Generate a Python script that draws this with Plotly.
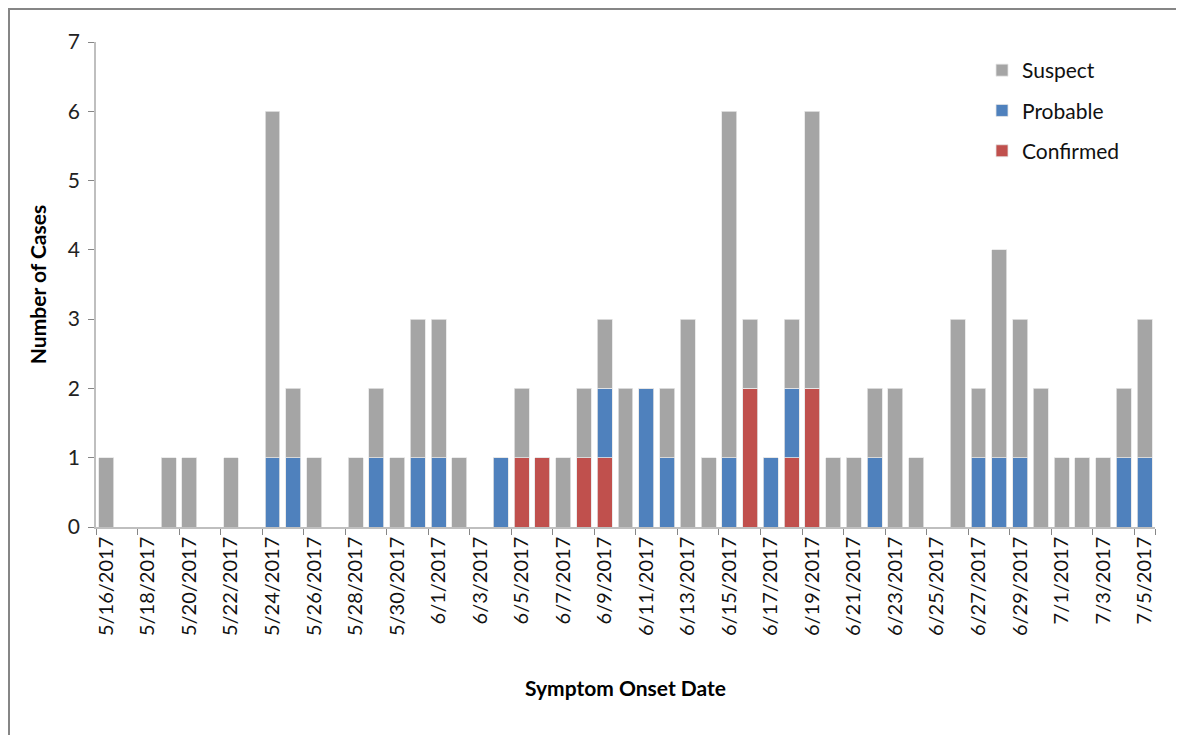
import plotly.graph_objects as go

dates = ["5/16/2017", "5/17/2017", "5/18/2017", "5/19/2017", "5/20/2017", "5/21/2017",
         "5/22/2017", "5/23/2017", "5/24/2017", "5/25/2017", "5/26/2017", "5/27/2017",
         "5/28/2017", "5/29/2017", "5/30/2017", "5/31/2017", "6/1/2017", "6/2/2017",
         "6/3/2017", "6/4/2017", "6/5/2017", "6/6/2017", "6/7/2017", "6/8/2017",
         "6/9/2017", "6/10/2017", "6/11/2017", "6/12/2017", "6/13/2017", "6/14/2017",
         "6/15/2017", "6/16/2017", "6/17/2017", "6/18/2017", "6/19/2017", "6/20/2017",
         "6/21/2017", "6/22/2017", "6/23/2017", "6/24/2017", "6/25/2017", "6/26/2017",
         "6/27/2017", "6/28/2017", "6/29/2017", "6/30/2017", "7/1/2017", "7/2/2017",
         "7/3/2017", "7/4/2017", "7/5/2017"]

confirmed = [0, 0, 0, 0, 0, 0, 0, 0, 0, 0, 0, 0, 0, 0, 0, 0, 0, 0, 0, 0,
             1, 1, 0, 1, 1, 0, 0, 0, 0, 0, 0, 2, 0, 1, 2, 0, 0, 0, 0, 0,
             0, 0, 0, 0, 0, 0, 0, 0, 0, 0, 0]
probable = [0, 0, 0, 0, 0, 0, 0, 0, 1, 1, 0, 0, 0, 1, 0, 1, 1, 0, 0, 1,
            0, 0, 0, 0, 1, 0, 2, 1, 0, 0, 1, 0, 1, 1, 0, 0, 0, 1, 0, 0,
            0, 0, 1, 1, 1, 0, 0, 0, 0, 1, 1]
suspect = [1, 0, 0, 1, 1, 0, 1, 0, 5, 1, 1, 0, 1, 1, 1, 2, 2, 1, 0, 0,
           1, 0, 1, 1, 1, 2, 0, 1, 3, 1, 5, 1, 0, 1, 4, 1, 1, 1, 2, 1,
           0, 3, 1, 3, 2, 2, 1, 1, 1, 1, 2]

tick_labels = dates[::2]
y_ticks = [0, 1, 2, 3, 4, 5, 6, 7]

FONT = "Lato, 'Open Sans', sans-serif"
W, H = 1176, 727
ML, MR, MT, MB = 88, 29, 34, 208
pw = W - ML - MR
ph = H - MT - MB

fig = go.Figure()
series = [("Confirmed", confirmed, "#C0504D", 3),
          ("Probable", probable, "#4F81BD", 2),
          ("Suspect", suspect, "#A5A5A5", 1)]
for name, vals, col, rank in series:
    fig.add_trace(go.Bar(
        x=dates, y=vals, name=name, legendgroup=name, legendrank=rank,
        marker=dict(color=col, line=dict(color="#E6E6E6", width=0.8)),
    ))

# outer chart border (left and top edges visible)
fig.add_shape(type="rect", xref="paper", yref="paper",
              x0=(1 - ML) / pw, x1=(W + 20 - ML) / pw,
              y0=-(H + 20 - MT - ph) / ph, y1=(MT + ph - 1) / ph,
              line=dict(color="#868686", width=2), fillcolor="rgba(0,0,0,0)", layer="below")

fig.update_layout(
    width=W, height=H,
    margin=dict(l=ML, r=MR, t=MT, b=MB, autoexpand=False),
    barmode="stack", bargap=0.28,
    plot_bgcolor="white", paper_bgcolor="white",
    font=dict(family=FONT, size=20, color="#222222"),
    showlegend=True,
    legend=dict(traceorder="grouped", x=(974 - ML) / pw, y=(MT + ph - 42) / ph,
                xanchor="left", yanchor="top", tracegroupgap=10,
                font=dict(family=FONT, size=21, color="#111111"),
                bgcolor="rgba(0,0,0,0)"),
    xaxis=dict(
        type="category", tickmode="array", tickvals=tick_labels, ticktext=tick_labels,
        tickangle=-90, tickson="boundaries", ticks="outside", ticklen=6,
        tickcolor="#868686", showline=True, linecolor="#BFBFBF", linewidth=1.5,
        showgrid=False, tickfont=dict(family=FONT, size=20, color="#111111"),
        title=dict(text="<b>Symptom Onset Date</b>", standoff=46,
                   font=dict(family=FONT, size=21, color="#000000")),
    ),
    yaxis=dict(
        range=[0, 7], tickvals=y_ticks, ticks="outside", ticklen=6,
        tickcolor="#868686", showline=True, linecolor="#BFBFBF", linewidth=1.5,
        showgrid=False, zeroline=False, ticklabelstandoff=4,
        tickfont=dict(family=FONT, size=21, color="#222222"),
        title=dict(text="<b>Number of Cases</b>", standoff=16,
                   font=dict(family=FONT, size=21, color="#000000")),
    ),
)

fig.write_html("out.html")
